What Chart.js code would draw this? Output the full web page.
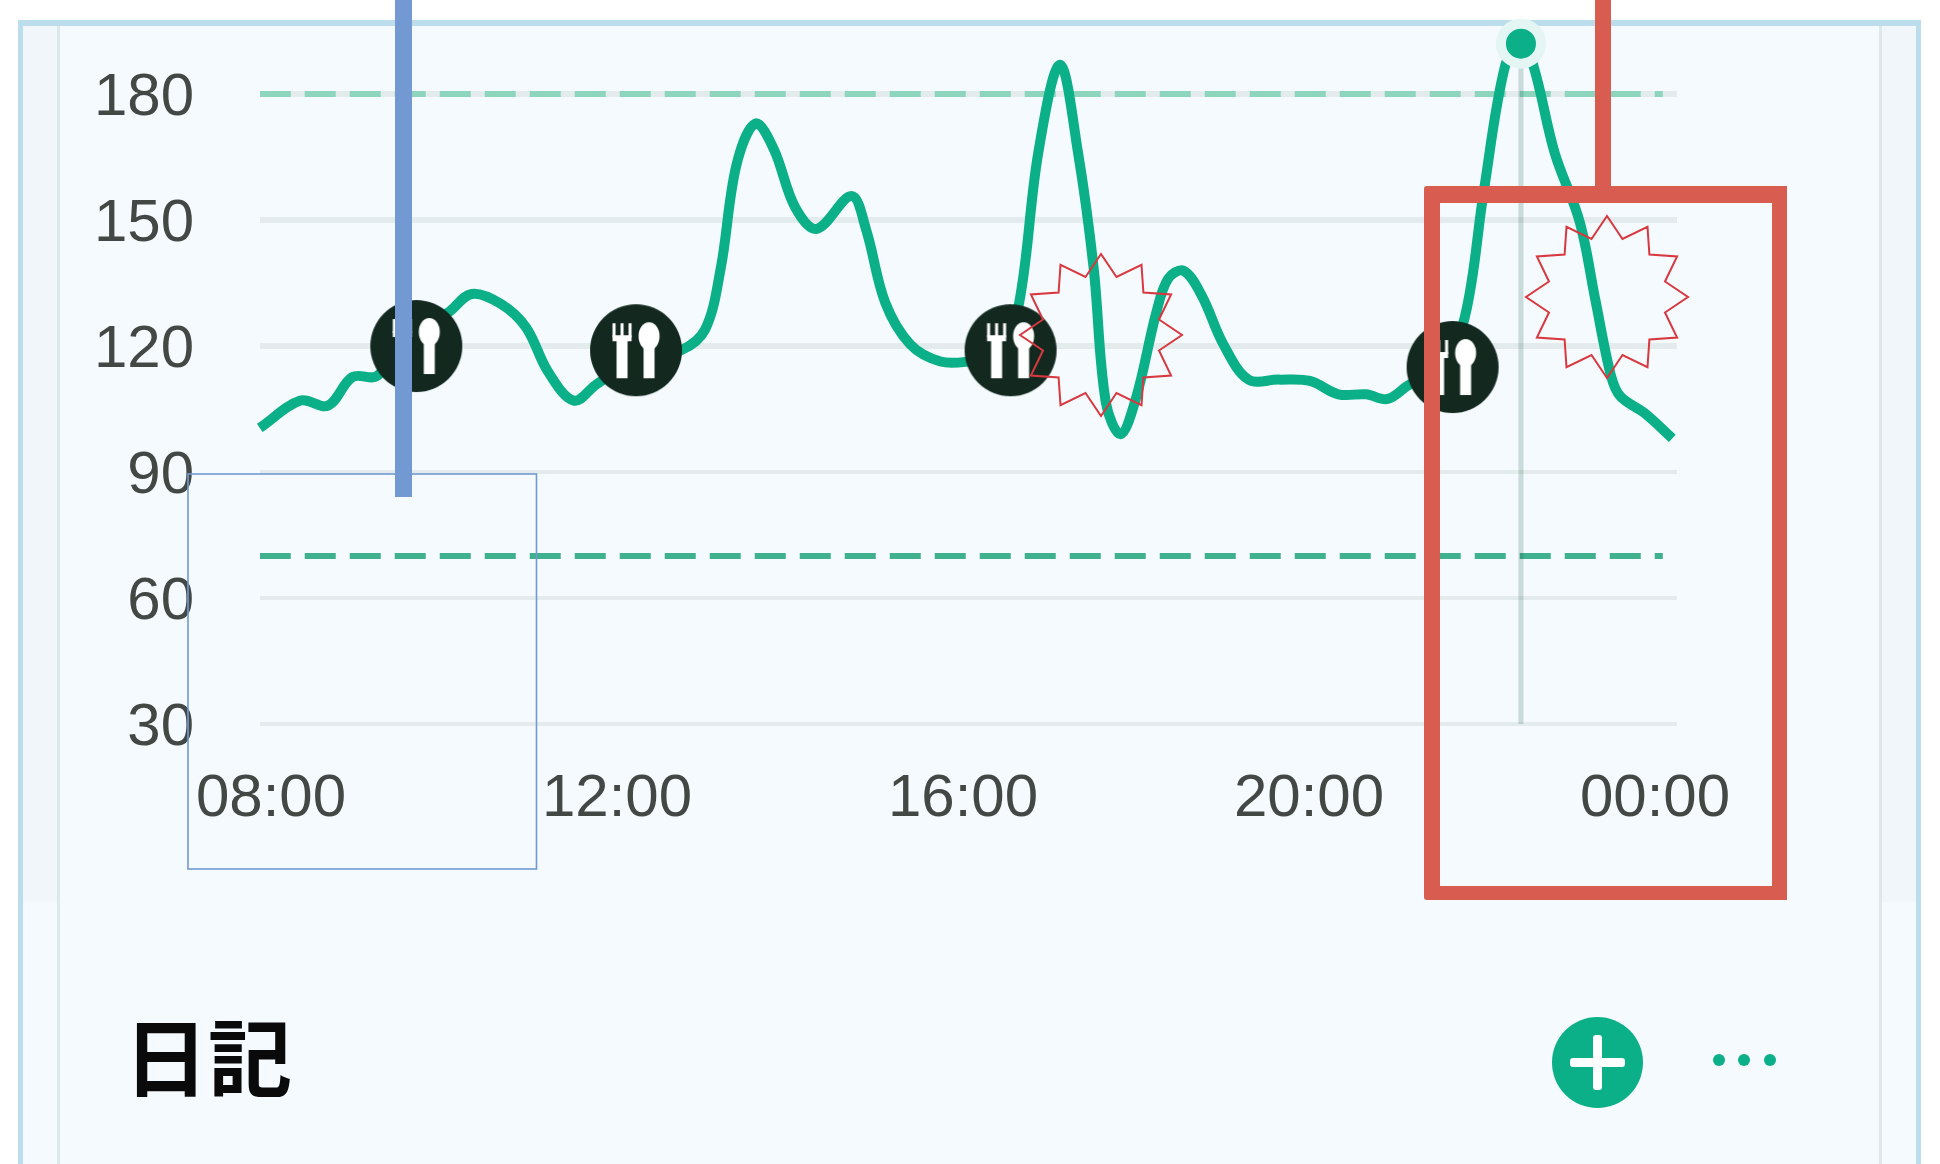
<!DOCTYPE html>
<html lang="ja">
<head>
<meta charset="utf-8">
<title>日記</title>
<script src="https://cdn.jsdelivr.net/npm/chart.js@4/dist/chart.umd.min.js"></script>
<style>
  html, body { margin: 0; padding: 0; background: #fff; }
  #page { position: relative; width: 1940px; height: 1164px; overflow: hidden; background: #fff; }
  #page div, #page canvas, #page svg { position: absolute; }
  #panel { left: 18px; top: 20px; width: 1903px; height: 1144px; box-sizing: border-box;
           background: #f4fafd; border: solid #bcdeec; border-width: 6px 5px 0 5px; }
  .strip { top: 26px; width: 36px; height: 876px; background: #f0f6f9; }
  .edge { top: 26px; width: 3px; height: 1138px; background: #dde8ea; }
  #title { left: 124px; top: 998px; font: 700 84px "Noto Sans CJK JP", sans-serif; color: #0a0a0a; line-height: 112px; }
  #add { left: 1552px; top: 1017px; width: 91px; height: 91px; border-radius: 50%; background: #0bb088; }
  #add::before { content: ""; position: absolute; left: 18px; top: 41px; width: 55px; height: 9px; background: #fff; border-radius: 3px; }
  #add::after { content: ""; position: absolute; left: 41px; top: 18px; width: 9px; height: 55px; background: #fff; border-radius: 3px; }
  .dot { top: 1054px; width: 12px; height: 12px; border-radius: 50%; background: #0bb088; }
</style>
</head>
<body>
<div id="page">
  <div id="panel"></div>
  <div class="strip" style="left:23px"></div>
  <div class="strip" style="left:1880px"></div>
  <div class="edge" style="left:57px"></div>
  <div class="edge" style="left:1879px"></div>
  <canvas id="chart" width="1940" height="1164"></canvas>
  <div id="title">日記</div>
  <div id="add"></div>
  <div class="dot" style="left:1713px"></div>
  <div class="dot" style="left:1738px"></div>
  <div class="dot" style="left:1764px"></div>
  <svg id="marks" width="1940" height="1164" style="left:0;top:0">
    <rect x="188" y="474" width="348.5" height="395" fill="none" stroke="#7299d1" stroke-width="1.6"/>
    <rect x="395" y="0" width="17" height="497" fill="#7299d1"/>
    <rect x="1595" y="0" width="16" height="190" fill="#d95c50"/>
    <path d="M1427 186H1787V900H1427Q1424 900 1424 897V189Q1424 186 1427 186ZM1440 203V886H1772V203Z" fill="#d95c50" fill-rule="evenodd"/>
  </svg>
</div>

<script>
// glucose trace, hours since midnight / mg/dL
const traceHours = [7.87, 8.34, 8.66, 8.94, 9.23, 9.49, 10.05, 10.32, 10.66, 10.95, 11.20, 11.50, 11.77, 12.22, 12.74,
  13.02, 13.20, 13.38, 13.60, 13.81, 14.06, 14.31, 14.71, 14.88, 15.10, 15.39, 15.74, 16.06, 16.43, 16.65, 16.87,
  17.12, 17.33, 17.51, 17.65, 17.82, 18.00, 18.23, 18.37, 18.55, 18.76, 19.01, 19.30, 19.65, 20.01, 20.34, 20.66,
  20.91, 21.16, 21.51, 21.80, 22.02, 22.27, 22.45, 22.59, 22.84, 23.13, 23.31, 23.49, 23.60, 23.88, 24.20];
const traceValues = [100.5, 107, 105.8, 112.6, 112.9, 121, 128, 132.4, 130, 124.4, 114, 107, 111, 116.7, 119,
  124, 138.6, 163, 173, 167, 153, 147.9, 155.7, 147.7, 130.4, 120.4, 116.3, 116.3, 118, 130.4, 166,
  187, 166, 138.6, 106.7, 99, 107.6, 127.6, 136, 137.9, 132, 120.4, 112, 112, 111.7, 108.5, 108.5,
  107.4, 110.8, 114, 126.8, 156.8, 187, 192, 187, 166, 149.5, 131, 113, 108, 104, 98];

const mealHours = [9.68, 12.22, 16.55, 21.66];
const mealValues = [120, 119, 119, 115];

const cursorHour = 22.45;
const cursorValue = 192;

const upperLimit = 180;
const lowerLimit = 70;
const limitStart = 7.87;
const limitEnd = 24.09;

const xTicks = [8, 12, 16, 20, 24];
const xTickLabels = ['08:00', '12:00', '16:00', '20:00', '00:00'];
const yTicks = [30, 60, 90, 120, 150, 180];

const GREEN = '#0bb088';
const TEXT = '#434845';

function mealIcon() {
  const c = document.createElement('canvas');
  c.width = 94; c.height = 94;
  const g = c.getContext('2d');
  g.translate(47, 47);
  g.fillStyle = '#13291f';
  g.beginPath(); g.arc(0, 0, 46, 0, Math.PI * 2); g.fill();
  g.fillStyle = '#fff';
  // fork
  [-23.5, -15.5, -7.5].forEach(x => g.fillRect(x, -27, 3, 14));
  g.fillRect(-23.5, -15, 19, 6);
  g.fillRect(-19.5, -10, 11, 38);
  // spoon
  g.beginPath(); g.ellipse(13, -14, 10.5, 14, 0, 0, Math.PI * 2); g.fill();
  g.fillRect(7.5, -4, 11, 32);
  return c;
}

const pairs = (xs, ys) => xs.map((x, i) => ({ x, y: ys[i] }));

new Chart(document.getElementById('chart'), {
  type: 'line',
  data: {
    datasets: [
      {
        label: 'meals',
        data: pairs(mealHours, mealValues),
        showLine: false,
        pointStyle: mealIcon(),
        pointRadius: 46,
        order: 1
      },
      {
        label: 'current',
        data: pairs([cursorHour], [cursorValue]),
        showLine: false,
        pointRadius: 20,
        pointBorderWidth: 10,
        pointBackgroundColor: GREEN,
        pointBorderColor: '#e3f6f4',
        clip: false,
        order: 2
      },
      {
        label: 'glucose',
        data: pairs(traceHours, traceValues),
        borderColor: GREEN,
        borderWidth: 10,
        tension: 0.35,
        pointRadius: 0,
        clip: false,
        order: 3
      },
      {
        label: 'cursor',
        data: pairs([cursorHour, cursorHour], [30, cursorValue]),
        borderColor: 'rgba(30, 90, 80, 0.2)',
        borderWidth: 5,
        pointRadius: 0,
        clip: false,
        order: 4
      },
      {
        label: 'upper',
        data: pairs([limitStart, limitEnd], [upperLimit, upperLimit]),
        borderColor: '#8dd5bd',
        borderWidth: 6,
        borderDash: [31, 14],
        pointRadius: 0,
        order: 5
      },
      {
        label: 'lower',
        data: pairs([limitStart, limitEnd], [lowerLimit, lowerLimit]),
        borderColor: '#3fb18c',
        borderWidth: 6,
        borderDash: [31, 14],
        pointRadius: 0,
        order: 5
      }
    ]
  },
  options: {
    responsive: false,
    animation: false,
    // 47px keeps the top of the plot clear of the axis label padding, scale is 4.2px per unit
    layout: { padding: { top: 47, right: 263, left: 0, bottom: 0 } },
    plugins: { legend: { display: false }, tooltip: { enabled: false } },
    scales: {
      x: {
        type: 'linear',
        min: 7.873,
        max: 24.254,
        afterBuildTicks: s => { s.ticks = xTicks.map(value => ({ value })); },
        afterFit: s => { s.height = 440; s.paddingLeft = s.paddingRight = 0; },
        grid: { display: false, drawTicks: false },
        border: { display: false },
        ticks: {
          autoSkip: false,
          maxRotation: 0,
          padding: 39,
          color: TEXT,
          font: { family: '"Liberation Sans"', size: 60 },
          callback: v => xTickLabels[xTicks.indexOf(v)]
        }
      },
      y: {
        min: 30,
        max: 191.2,
        afterBuildTicks: s => { s.ticks = yTicks.map(value => ({ value })); },
        afterFit: s => { s.width = 260; s.paddingTop = s.paddingBottom = 0; },
        grid: {
          drawTicks: false,
          color: '#e3ebec',
          lineWidth: c => (c.tick && c.tick.value >= 120 ? 6 : 4)
        },
        border: { display: false },
        ticks: {
          autoSkip: false,
          padding: 66,
          color: TEXT,
          // empty first line + tiny line height nudges the labels a few px below the grid line
          font: { family: '"Liberation Sans"', size: 60, lineHeight: '9px' },
          callback: v => ['', String(v)]
        }
      }
    }
  }
});

// hand-drawn red burst callouts on top of the chart
const bursts = [[1101, 335], [1607, 297]];
const svg = document.getElementById('marks');
bursts.forEach(([cx, cy]) => {
  const pts = [];
  for (let i = 0; i < 24; i++) {
    const r = i % 2 ? 60 : 81;
    const a = i * Math.PI / 12;
    pts.push((cx + r * Math.sin(a)).toFixed(1) + ',' + (cy - r * Math.cos(a)).toFixed(1));
  }
  const p = document.createElementNS('http://www.w3.org/2000/svg', 'polygon');
  p.setAttribute('points', pts.join(' '));
  p.setAttribute('fill', 'none');
  p.setAttribute('stroke', '#d8383f');
  p.setAttribute('stroke-width', '2');
  svg.appendChild(p);
});
</script>
</body>
</html>
